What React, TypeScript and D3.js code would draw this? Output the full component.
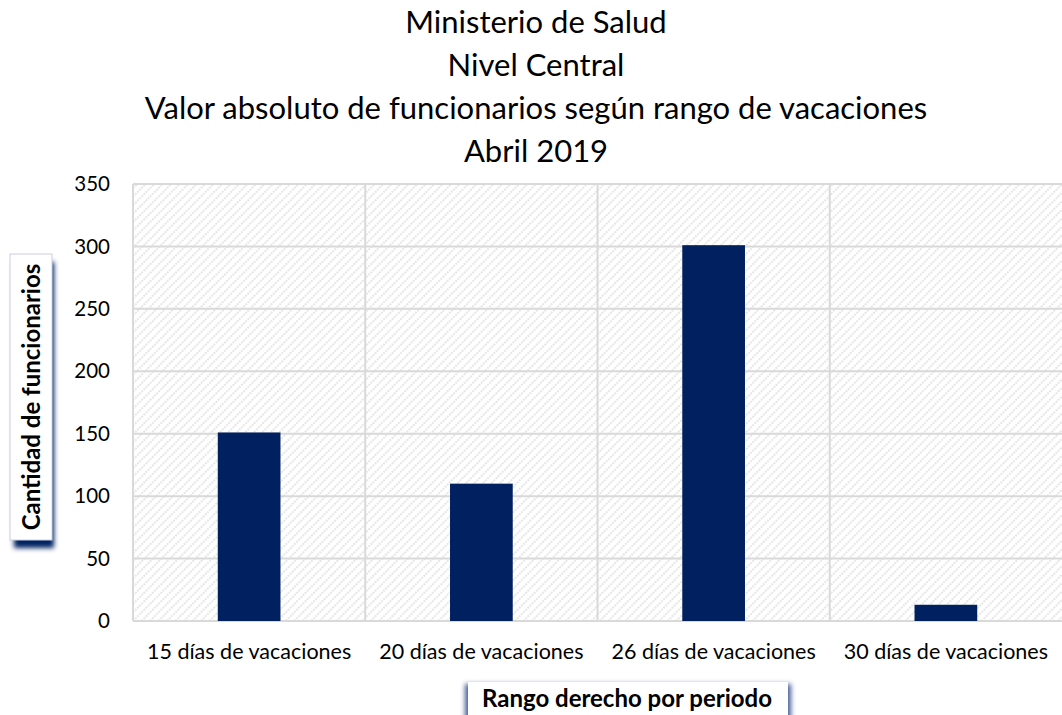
import * as d3 from "d3";

const TITLE_LINES = [
  "Ministerio de Salud",
  "Nivel Central",
  "Valor absoluto de funcionarios según rango de vacaciones",
  "Abril 2019",
];
const CATEGORIES = [
  "15 días de vacaciones",
  "20 días de vacaciones",
  "26 días de vacaciones",
  "30 días de vacaciones",
];
const VALUES = [151, 110, 301, 13];
const Y_TICKS = [0, 50, 100, 150, 200, 250, 300, 350];
const Y_TITLE = "Cantidad de funcionarios";
const X_TITLE = "Rango derecho por periodo";

const WIDTH = 1062;
const HEIGHT = 715;
const MARGIN = { top: 184, right: 0, bottom: 94, left: 133 };
const FONT = "Lato, 'Open Sans', sans-serif";
const GRID = "#d9d9d9";
const BAR = "#002060";

export default function App() {
  const boundsWidth = WIDTH - MARGIN.left - MARGIN.right;
  const boundsHeight = HEIGHT - MARGIN.top - MARGIN.bottom;

  const xScale = d3
    .scaleBand()
    .domain(CATEGORIES)
    .range([0, boundsWidth])
    .paddingInner(0)
    .paddingOuter(0);

  const yScale = d3.scaleLinear().domain([0, 350]).range([boundsHeight, 0]);

  const barWidth = xScale.bandwidth() * 0.27;

  return (
    <svg
      width={WIDTH}
      height={HEIGHT}
      style={{ position: "absolute", left: 0, top: 0, background: "#fff" }}
    >
      <defs>
        <pattern
          id="hatch"
          width={6}
          height={6}
          patternUnits="userSpaceOnUse"
          patternTransform="rotate(-45)"
        >
          <line x1={0} y1={3} x2={6} y2={3} stroke="#dedede" strokeWidth={1.5} strokeDasharray="2 1" />
        </pattern>
        <filter id="shadow" x="-30%" y="-30%" width="160%" height="160%">
          <feGaussianBlur stdDeviation={2.5} />
        </filter>
      </defs>

      {/* Title */}
      {TITLE_LINES.map((line, i) => (
        <text
          key={i}
          x={536}
          y={33 + i * 43}
          textAnchor="middle"
          fontFamily={FONT}
          fontSize={31}
          fill="#000"
        >
          {line}
        </text>
      ))}

      <g transform={`translate(${MARGIN.left},${MARGIN.top})`}>
        {/* Plot area */}
        <rect width={boundsWidth} height={boundsHeight} fill="url(#hatch)" />

        {/* Horizontal grid */}
        {Y_TICKS.map((t) => (
          <line
            key={t}
            x1={0}
            x2={boundsWidth}
            y1={yScale(t)}
            y2={yScale(t)}
            stroke={GRID}
            strokeWidth={2}
          />
        ))}
        {/* Vertical grid */}
        {CATEGORIES.map((c) => (
          <line
            key={c}
            x1={xScale(c)!}
            x2={xScale(c)!}
            y1={0}
            y2={boundsHeight}
            stroke={GRID}
            strokeWidth={2}
          />
        ))}

        {/* Bars */}
        {CATEGORIES.map((c, i) => (
          <rect
            key={c}
            x={xScale(c)! + (xScale.bandwidth() - barWidth) / 2}
            y={yScale(VALUES[i])}
            width={barWidth}
            height={boundsHeight - yScale(VALUES[i])}
            fill={BAR}
          />
        ))}

        {/* Y tick labels */}
        {Y_TICKS.map((t) => (
          <text
            key={t}
            x={-23}
            y={yScale(t)}
            dy="0.35em"
            textAnchor="end"
            fontFamily={FONT}
            fontSize={20.5}
            fill="#000"
          >
            {t}
          </text>
        ))}

        {/* Category labels */}
        {CATEGORIES.map((c) => (
          <text
            key={c}
            x={xScale(c)! + xScale.bandwidth() / 2}
            y={boundsHeight + 38}
            textAnchor="middle"
            fontFamily={FONT}
            fontSize={21.5}
            fill="#000"
          >
            {c}
          </text>
        ))}
      </g>

      {/* Y axis title box */}
      <g>
        <rect x={14} y={262} width={40} height={286} fill={BAR} filter="url(#shadow)" />
        <rect x={10} y={254} width={42} height={286} fill="#fff" stroke="#c9d0e0" strokeWidth={1} />
        <text
          transform={`translate(40,${254 + 143}) rotate(-90)`}
          textAnchor="middle"
          fontFamily={FONT}
          fontWeight="bold"
          fontSize={24}
          fill="#000"
        >
          {Y_TITLE}
        </text>
      </g>

      {/* X axis title box */}
      <g>
        <rect x={465} y={684} width={326} height={40} fill="#4a5f9a" filter="url(#shadow)" />
        <rect x={468} y={682} width={320} height={40} fill="#fff" />
        <text
          x={627}
          y={707}
          textAnchor="middle"
          fontFamily={FONT}
          fontWeight="bold"
          fontSize={24}
          fill="#000"
        >
          {X_TITLE}
        </text>
      </g>
    </svg>
  );
}
